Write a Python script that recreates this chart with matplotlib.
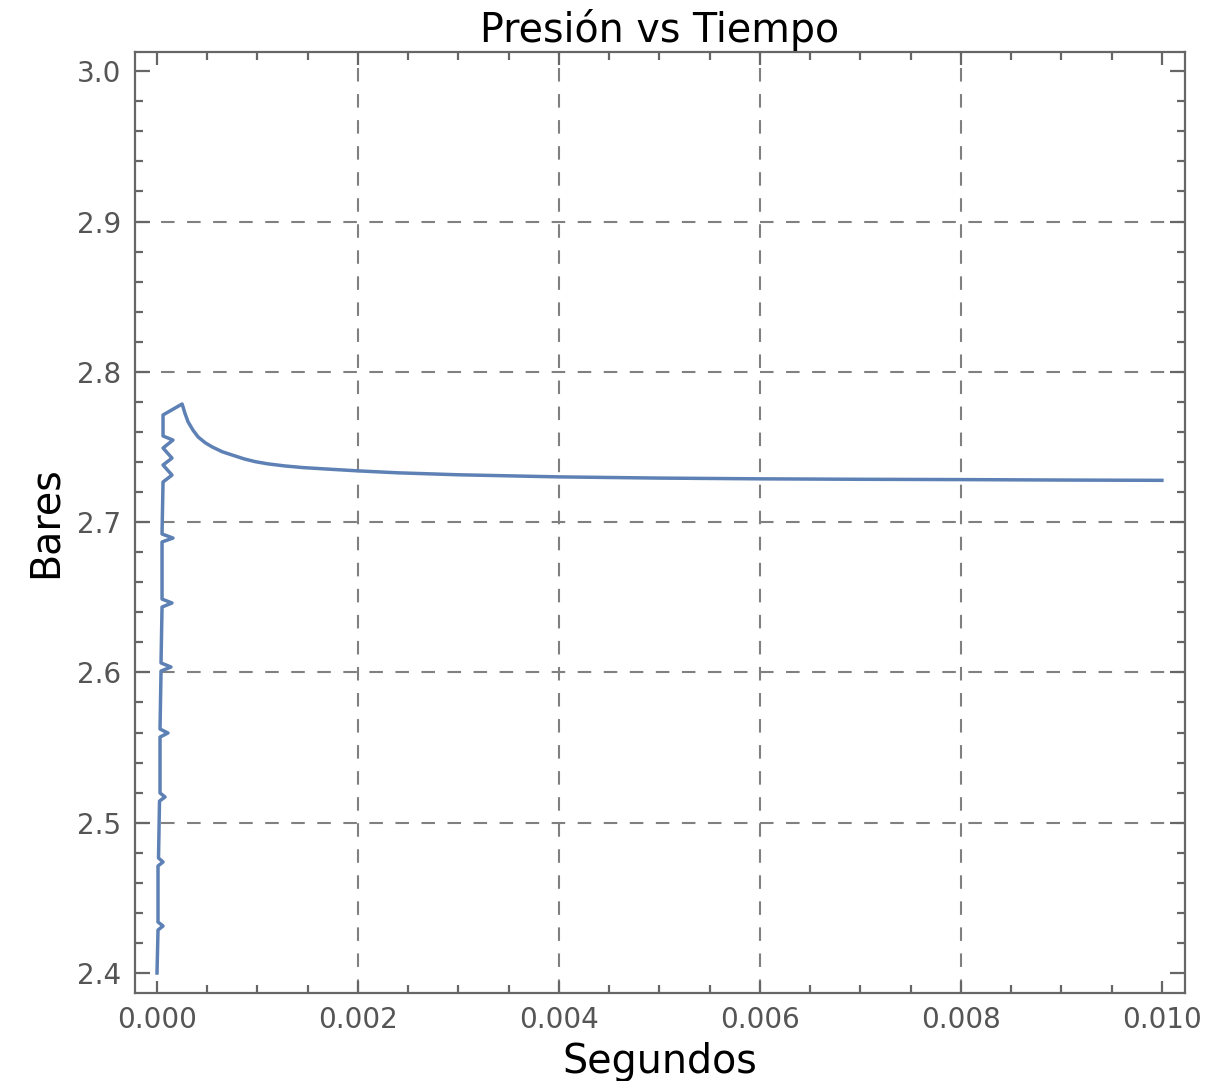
import matplotlib
matplotlib.use("Agg")
import matplotlib.pyplot as plt
from matplotlib.ticker import MultipleLocator, FormatStrFormatter

# Pressure (bar) against time (s)
t_values = [
    0.0, 1.0e-5, 6.0e-5, 1.0e-5, 1.0e-5, 6.0e-5, 1.5e-5, 2.5e-5, 8.0e-5, 3.0e-5,
    3.0e-5, 1.09e-4, 3.0e-5, 4.0e-5, 1.39e-4, 4.0e-5, 5.0e-5, 1.49e-4, 5.0e-5,
    5.0e-5, 1.59e-4, 5.0e-5, 6.0e-5, 1.49e-4, 6.0e-5, 1.49e-4, 6.0e-5, 1.59e-4,
    6.0e-5, 6.0e-5, 2.5e-4,
    2.8e-4, 3.1e-4, 3.6e-4, 4.1e-4, 4.8e-4, 5.5e-4, 6.5e-4, 7.5e-4, 8.7e-4,
    9.8e-4, 1.1e-3, 1.27e-3, 1.45e-3, 1.67e-3, 2.0e-3, 2.4e-3,
    3.0e-3, 4.0e-3, 5.0e-3, 6.0e-3, 7.0e-3, 8.0e-3, 9.0e-3, 1.0e-2,
]
p_values = [
    2.4000, 2.4286, 2.4313, 2.4339, 2.4712, 2.4739, 2.4765, 2.5144, 2.5171, 2.5198,
    2.5570, 2.5597, 2.5623, 2.6009, 2.6036, 2.6063, 2.6435, 2.6462, 2.6488,
    2.6868, 2.6894, 2.6921, 2.7267, 2.7313, 2.7380, 2.7426, 2.7493, 2.7546,
    2.7573, 2.7713, 2.7786,
    2.7720, 2.7666, 2.7610, 2.7566, 2.7528, 2.7500, 2.7468, 2.7446, 2.7420,
    2.7402, 2.7388, 2.7374, 2.7363, 2.7354, 2.7341, 2.7328,
    2.7315, 2.7301, 2.7293, 2.7288, 2.7285, 2.7283, 2.7280, 2.7278,
]

x_grid = [0.002, 0.004, 0.006, 0.008]
y_grid = [2.5, 2.6, 2.7, 2.8, 2.9]

title = "Presión vs Tiempo"
x_label = "Segundos"
y_label = "Bares"

W, H = 1216, 1081
fig = plt.figure(figsize=(W / 100, H / 100), dpi=100)
ax = fig.add_axes([135 / W, 1 - 993 / H, 1050 / W, 941 / H])

ax.set_xlim(-2.19e-4, 0.01023)
ax.set_ylim(2.3867, 3.0128)

grid_kw = dict(color="#808080", lw=1.5, linestyle=(0, (6.5, 6)), zorder=1)
for xv in x_grid:
    ax.axvline(xv, **grid_kw)
for yv in y_grid:
    ax.axhline(yv, **grid_kw)

ax.plot(t_values, p_values, color="#5E81B5", lw=2.5, zorder=3)

ax.xaxis.set_major_locator(MultipleLocator(0.002))
ax.xaxis.set_minor_locator(MultipleLocator(0.0005))
ax.yaxis.set_major_locator(MultipleLocator(0.1))
ax.yaxis.set_minor_locator(MultipleLocator(0.02))
ax.xaxis.set_major_formatter(FormatStrFormatter("%.3f"))
ax.yaxis.set_major_formatter(FormatStrFormatter("%.1f"))

spine_col = "#666666"
for s in ax.spines.values():
    s.set_color(spine_col)
    s.set_linewidth(1.6)

ax.tick_params(axis="both", which="both", direction="in", top=True, right=True,
               color=spine_col, width=1.6)
ax.tick_params(axis="x", which="major", length=9, pad=9,
               labelsize=20, labelcolor="#555555")
ax.tick_params(axis="y", which="major", length=11, pad=10,
               labelsize=20, labelcolor="#555555")
ax.tick_params(axis="both", which="minor", length=5.5)

ax.set_title(title, fontsize=28.5, color="black", pad=7)
ax.set_xlabel(x_label, fontsize=28.5, color="black", labelpad=6)
ax.set_ylabel(y_label, fontsize=28.5, color="black", labelpad=8)

fig.savefig("out.png", dpi=100, facecolor="white")
